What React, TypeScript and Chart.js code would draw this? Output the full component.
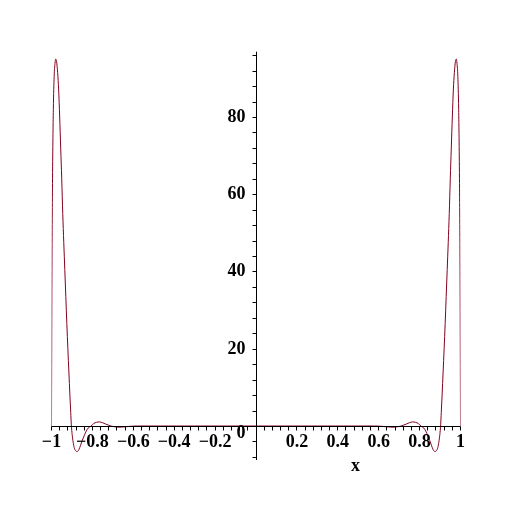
import React, { useEffect, useRef } from "react";
import { Chart, registerables } from "chart.js";

Chart.register(...registerables);

// Curve samples (x, y)
const xValues = [
  -1, -0.998, -0.995, -0.991, -0.987, -0.983, -0.979, -0.975, -0.97, -0.965,
  -0.96, -0.955, -0.95, -0.945, -0.94, -0.935, -0.93, -0.925, -0.92, -0.915,
  -0.91, -0.906, -0.903, -0.899, -0.894, -0.889, -0.882, -0.874, -0.866, -0.858,
  -0.85, -0.84, -0.83, -0.82, -0.806, -0.795, -0.78, -0.765, -0.75, -0.735,
  -0.72, -0.71, -0.69, -0.67, -0.65, -0.62, -0.58, -0.5, -0.3, 0,
  0.3, 0.5, 0.58, 0.62, 0.65, 0.67, 0.69, 0.71, 0.72, 0.735,
  0.75, 0.765, 0.78, 0.795, 0.806, 0.82, 0.83, 0.84, 0.85, 0.858,
  0.866, 0.874, 0.882, 0.889, 0.894, 0.899, 0.903, 0.906, 0.91, 0.915,
  0.92, 0.925, 0.93, 0.935, 0.94, 0.945, 0.95, 0.955, 0.96, 0.965,
  0.97, 0.975, 0.979, 0.983, 0.987, 0.991, 0.995, 0.998, 1,
];
const yValues = [
  0, 38, 64, 82, 90.5, 93.8, 95, 94.3, 91.5, 87,
  80, 72, 64, 55, 47.5, 40.5, 33.5, 26.5, 20, 14,
  8, 3.5, 0.3, -2.2, -4.2, -5.6, -6.4, -6.6, -6.1, -5.0,
  -3.8, -2.5, -1.3, -0.5, 0, 0.6, 0.95, 1.05, 0.85, 0.5,
  0.2, 0, -0.2, -0.3, -0.25, -0.1, 0, 0, 0, 0,
  0, 0, 0, -0.1, -0.25, -0.3, -0.2, 0, 0.2, 0.5,
  0.85, 1.05, 0.95, 0.6, 0, -0.5, -1.3, -2.5, -3.8, -5.0,
  -6.1, -6.6, -6.4, -5.6, -4.2, -2.2, 0.3, 3.5, 8, 14,
  20, 26.5, 33.5, 40.5, 47.5, 55, 64, 72, 80, 87,
  91.5, 94.3, 95, 93.8, 90.5, 82, 64, 38, 0,
];

const xTickValues = [-1, -0.8, -0.6, -0.4, -0.2, 0.2, 0.4, 0.6, 0.8, 1];
const xTickLabels = ["\u22121", "\u22120.8", "\u22120.6", "\u22120.4", "\u22120.2", "0.2", "0.4", "0.6", "0.8", "1"];
const yTickValues = [20, 40, 60, 80];
const yTickLabels = ["20", "40", "60", "80"];
const xMinorStep = 0.04;
const yMinorStep = 4;
const xAxisTitle = "x";

const X_MIN = -1;
const X_MAX = 1;
const Y_MIN = -8.8;
const Y_MAX = 96.9;

const FONT = 'bold 18px "Liberation Serif", "Times New Roman", serif';

const axesPlugin = {
  id: "mapleAxes",
  afterDatasetsDraw(chart: any) {
    const { ctx, chartArea, scales } = chart;
    const xs = scales.x;
    const ys = scales.y;
    const x0 = Math.round(xs.getPixelForValue(0) - 0.01) + 0.5;
    const y0 = Math.round(ys.getPixelForValue(0)) + 0.5;
    ctx.save();
    ctx.strokeStyle = "#000";
    ctx.lineWidth = 1;
    ctx.beginPath();
    ctx.moveTo(chartArea.left, y0);
    ctx.lineTo(chartArea.right, y0);
    ctx.moveTo(x0, chartArea.top);
    ctx.lineTo(x0, chartArea.bottom);
    // x ticks (hanging below)
    const nx = Math.round((X_MAX - X_MIN) / xMinorStep);
    for (let i = 0; i <= nx; i++) {
      const v = X_MIN + i * xMinorStep;
      if (Math.abs(v) < 1e-9) continue;
      const px = Math.floor(xs.getPixelForValue(v)) + 0.5;
      ctx.moveTo(px, y0);
      ctx.lineTo(px, y0 + 4);
    }
    // y ticks (to the left)
    const startY = Math.ceil(Y_MIN / yMinorStep) * yMinorStep;
    for (let v = startY; v <= Y_MAX; v += yMinorStep) {
      if (Math.abs(v) < 1e-9) continue;
      const py = Math.round(ys.getPixelForValue(v)) + 0.5;
      ctx.moveTo(x0, py);
      ctx.lineTo(x0 - 4, py);
    }
    ctx.stroke();

    ctx.fillStyle = "#000";
    ctx.font = FONT;
    ctx.textBaseline = "alphabetic";
    ctx.textAlign = "center";
    xTickValues.forEach((v, i) => {
      ctx.fillText(xTickLabels[i], xs.getPixelForValue(v), y0 + 20);
    });
    ctx.textAlign = "right";
    yTickValues.forEach((v, i) => {
      ctx.fillText(yTickLabels[i], x0 - 11, ys.getPixelForValue(v) + 5);
    });
    ctx.fillText("0", x0 - 11, y0 + 11.5);
    ctx.textAlign = "center";
    ctx.fillText(xAxisTitle, xs.getPixelForValue(0.486), y0 + 44);
    ctx.restore();
  },
};

export default function App() {
  const canvasRef = useRef<HTMLCanvasElement | null>(null);

  useEffect(() => {
    const canvas = canvasRef.current;
    if (!canvas) return;
    const points = xValues.map((x, i) => ({ x, y: yValues[i] }));
    const chart = new Chart(canvas, {
      type: "line",
      data: {
        datasets: [
          {
            data: points,
            borderColor: "rgb(132,0,32)",
            borderWidth: 1,
            pointRadius: 0,
            fill: false,
            cubicInterpolationMode: "monotone",
          },
        ],
      },
      options: {
        responsive: false,
        animation: false,
        devicePixelRatio: 1,
        layout: { padding: { left: 51.5, right: 51.5, top: 51.7, bottom: 52 } },
        plugins: {
          legend: { display: false },
          tooltip: { enabled: false },
          title: { display: false },
        },
        scales: {
          x: { type: "linear", min: X_MIN, max: X_MAX, display: false },
          y: { type: "linear", min: Y_MIN, max: Y_MAX, display: false },
        },
      },
      plugins: [axesPlugin],
    });
    return () => chart.destroy();
  }, []);

  return (
    <div style={{ position: "absolute", left: 0, top: 0, width: 512, height: 512, background: "#fff" }}>
      <canvas ref={canvasRef} width={512} height={512} style={{ display: "block" }} />
    </div>
  );
}
